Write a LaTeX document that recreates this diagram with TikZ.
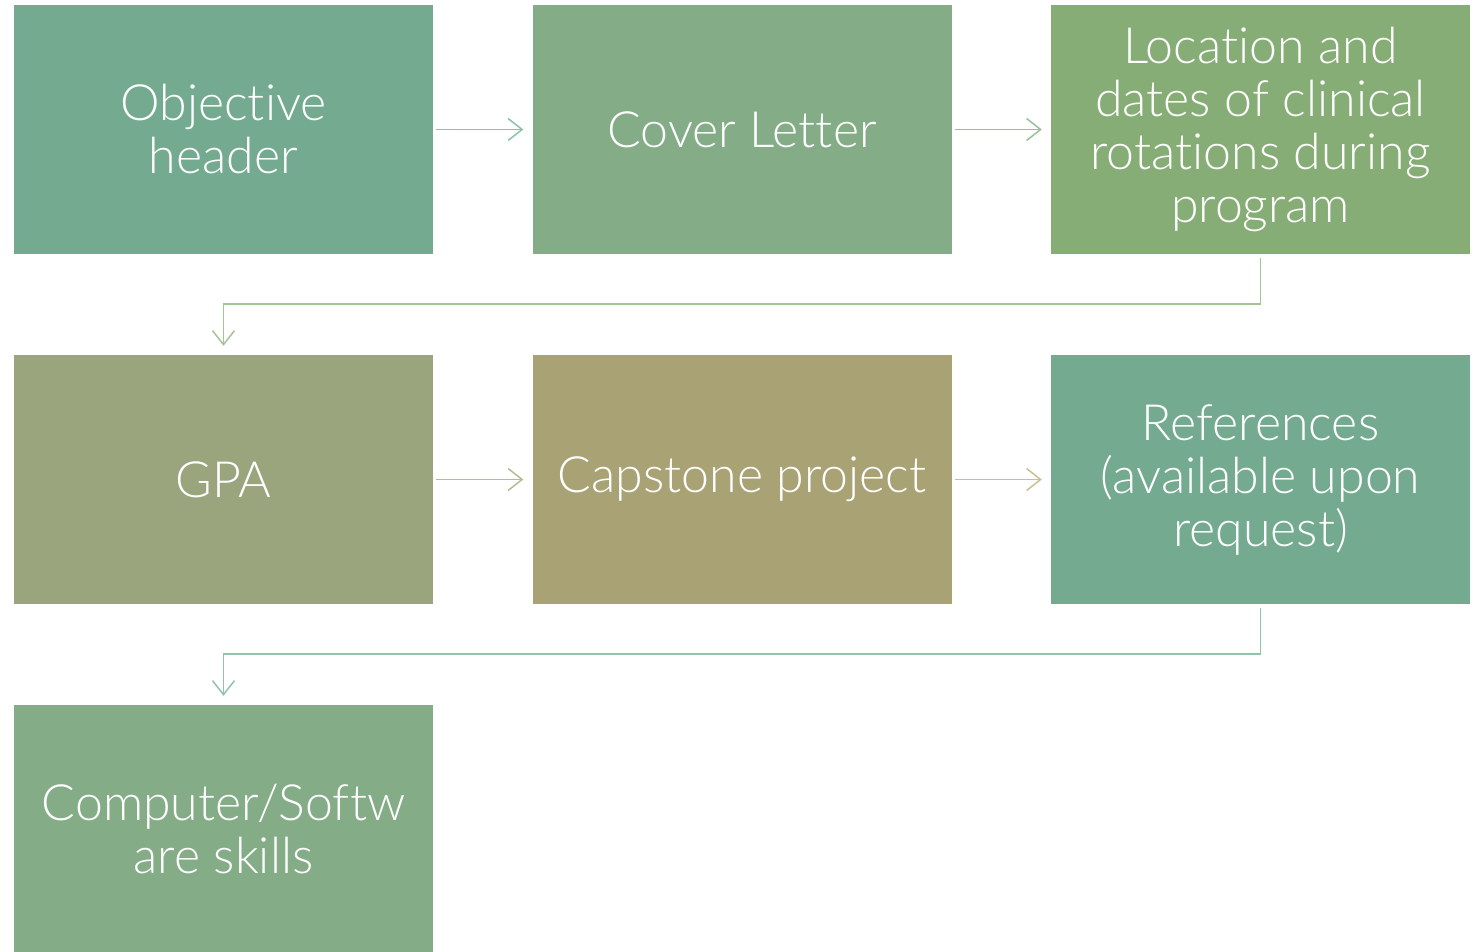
\documentclass[tikz,border=0pt]{standalone}
\usepackage{fontspec}
\setmainfont{Lato Light}[Ligatures={NoCommon,NoRare}]
\usetikzlibrary{arrows.meta}
\definecolor{cA}{HTML}{73AA90}
\definecolor{cB}{HTML}{84AC87}
\definecolor{cC}{HTML}{87AD77}
\definecolor{cD}{HTML}{9AA47D}
\definecolor{cE}{HTML}{A8A274}
\definecolor{aA}{HTML}{8CC2A6}
\definecolor{aB}{HTML}{97C198}
\definecolor{aC}{HTML}{A3C596}
\definecolor{aD}{HTML}{B5BC95}
\definecolor{aE}{HTML}{C8BF95}
\definecolor{aF}{HTML}{90C3A8}
\tikzset{
  box/.style={draw=none, minimum width=419pt, minimum height=249pt, inner sep=0pt,
    text=white, align=center, font=\fontsize{50}{53}\selectfont},
  conn/.style={line width=1.5pt, -{Straight Barb[length=14pt,width=22pt,line width=1.5pt]}},
}
\begin{document}
\begin{tikzpicture}[x=1pt,y=-1pt]
\useasboundingbox (0,0) rectangle (1481,952);
\begin{scope}
\clip (0,0) rectangle (1481,952);
\node[box, fill=cA] (n1) at (223.5,129.5) {Objective\\header};
\node[box, fill=cB] (n2) at (742,129.5) {Cover Letter};
\node[box, fill=cC] (n3) at (1260.5,129.5) {Location and\\dates of clinical\\rotations during\\program};
\node[box, fill=cD] (n4) at (223.5,479.5) {GPA};
\node[box, fill=cE] (n5) at (742,479.5) {Capstone project};
\node[box, fill=cA] (n6) at (1260.5,479.5) {References\\(available upon\\request)};
\node[box, fill=cB] (n7) at (223.5,829.5) {Computer/Softw\\are skills};
\end{scope}
\draw[conn, aA] ([xshift=3pt]n1.east) -- ([xshift=-9pt]n2.west);
\draw[conn, aB] ([xshift=3pt]n2.east) -- ([xshift=-9pt]n3.west);
\draw[conn, aC] ([yshift=-4pt]n3.south) -- ++(0,46) -| ([yshift=9pt]n4.north);
\draw[conn, aD] ([xshift=3pt]n4.east) -- ([xshift=-9pt]n5.west);
\draw[conn, aE] ([xshift=3pt]n5.east) -- ([xshift=-9pt]n6.west);
\draw[conn, aF] ([yshift=-4pt]n6.south) -- ++(0,46) -| ([yshift=9pt]n7.north);
\end{tikzpicture}
\end{document}
